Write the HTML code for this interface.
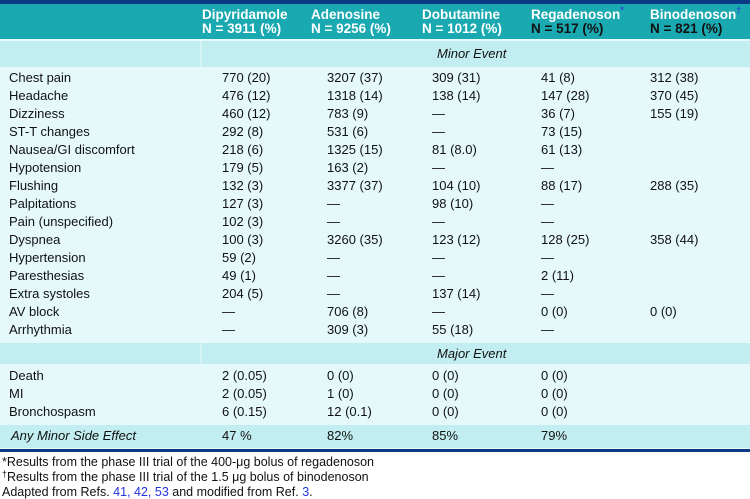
<!DOCTYPE html><html><head><style>
body{margin:0;width:750px;height:493px;background:#fff;font-family:"Liberation Sans",sans-serif;position:relative;overflow:hidden}
div{position:absolute}
.t{font-size:13px;color:#111;white-space:nowrap;line-height:14px}
.h{font-size:13.5px;font-weight:bold;color:#fff;white-space:nowrap;line-height:14px}
.i{font-style:italic}
sup{font-size:9px;color:#2a46d8;line-height:0;vertical-align:0;position:relative;top:-6px}
a{color:#2233dd;text-decoration:none}
</style></head><body>
<div style="left:0;top:0;width:750px;height:4px;background:#0a3a86"></div>
<div style="left:0;top:4px;width:750px;height:35px;background:#1aa9b1"></div>
<div style="left:0;top:39px;width:750px;height:410px;background:#e5f9fb"></div>
<div style="left:0;top:41px;width:750px;height:26px;background:#c3eef1"></div>
<div style="left:0;top:343px;width:750px;height:21px;background:#c3eef1"></div>
<div style="left:0;top:425px;width:750px;height:23px;background:#c3eef1"></div>
<div style="left:200px;top:41px;width:2px;height:26px;background:#d6f4f6"></div>
<div style="left:200px;top:343px;width:2px;height:21px;background:#d6f4f6"></div>
<div style="left:0;top:449px;width:750px;height:3px;background:#0a3a86"></div>
<div class="h" style="left:202px;top:8px">Dipyridamole<br>N = 3911 (%)</div>
<div class="h" style="left:311px;top:8px">Adenosine<br>N = 9256 (%)</div>
<div class="h" style="left:422px;top:8px">Dobutamine<br>N = 1012 (%)</div>
<div class="h" style="left:531px;top:8px">Regadenoson<sup>*</sup><br><span style="color:#111">N = 517 (%)</span></div>
<div class="h" style="left:650px;top:8px">Binodenoson<sup>†</sup><br><span style="color:#111">N = 821 (%)</span></div>
<div class="t i" style="left:437px;top:47px">Minor Event</div>
<div class="t i" style="left:437px;top:347px">Major Event</div>
<div id="rows"></div>
<script>
var R=[["Chest pain","770 (20)","3207 (37)","309 (31)","41 (8)","312 (38)"],
["Headache","476 (12)","1318 (14)","138 (14)","147 (28)","370 (45)"],
["Dizziness","460 (12)","783 (9)","—","36 (7)","155 (19)"],
["ST-T changes","292 (8)","531 (6)","—","73 (15)",""],
["Nausea/GI discomfort","218 (6)","1325 (15)","81 (8.0)","61 (13)",""],
["Hypotension","179 (5)","163 (2)","—","—",""],
["Flushing","132 (3)","3377 (37)","104 (10)","88 (17)","288 (35)"],
["Palpitations","127 (3)","—","98 (10)","—",""],
["Pain (unspecified)","102 (3)","—","—","—",""],
["Dyspnea","100 (3)","3260 (35)","123 (12)","128 (25)","358 (44)"],
["Hypertension","59 (2)","—","—","—",""],
["Paresthesias","49 (1)","—","—","2 (11)",""],
["Extra systoles","204 (5)","—","137 (14)","—",""],
["AV block","—","706 (8)","—","0 (0)","0 (0)"],
["Arrhythmia","—","309 (3)","55 (18)","—",""]];
var M=[["Death","2 (0.05)","0 (0)","0 (0)","0 (0)",""],["MI","2 (0.05)","1 (0)","0 (0)","0 (0)",""],["Bronchospasm","6 (0.15)","12 (0.1)","0 (0)","0 (0)",""]];
var X=[9,222,327,432,541,650],h="";
function add(r,y){for(var j=0;j<6;j++){if(r[j])h+='<div class="t" style="left:'+X[j]+'px;top:'+y+'px">'+r[j]+'</div>';}}
R.forEach(function(r,i){add(r,71+i*18)});
M.forEach(function(r,i){add(r,369+i*18)});
document.getElementById("rows").outerHTML=h;
</script>
<div class="t i" style="left:11px;top:429px">Any Minor Side Effect</div>
<div class="t" style="left:222px;top:429px">47 %</div>
<div class="t" style="left:327px;top:429px">82%</div>
<div class="t" style="left:432px;top:429px">85%</div>
<div class="t" style="left:541px;top:429px">79%</div>
<div class="t" style="left:2px;top:455px;font-size:12.5px">*Results from the phase III trial of the 400-μg bolus of regadenoson</div>
<div class="t" style="left:2px;top:470px;font-size:12.5px"><sup style="color:#111;top:-4px">†</sup>Results from the phase III trial of the 1.5 μg bolus of binodenoson</div>
<div class="t" style="left:2px;top:485px;font-size:12.5px">Adapted from Refs. <a>41, 42, 53</a> and modified from Ref. <a>3</a>.</div>
</body></html>
